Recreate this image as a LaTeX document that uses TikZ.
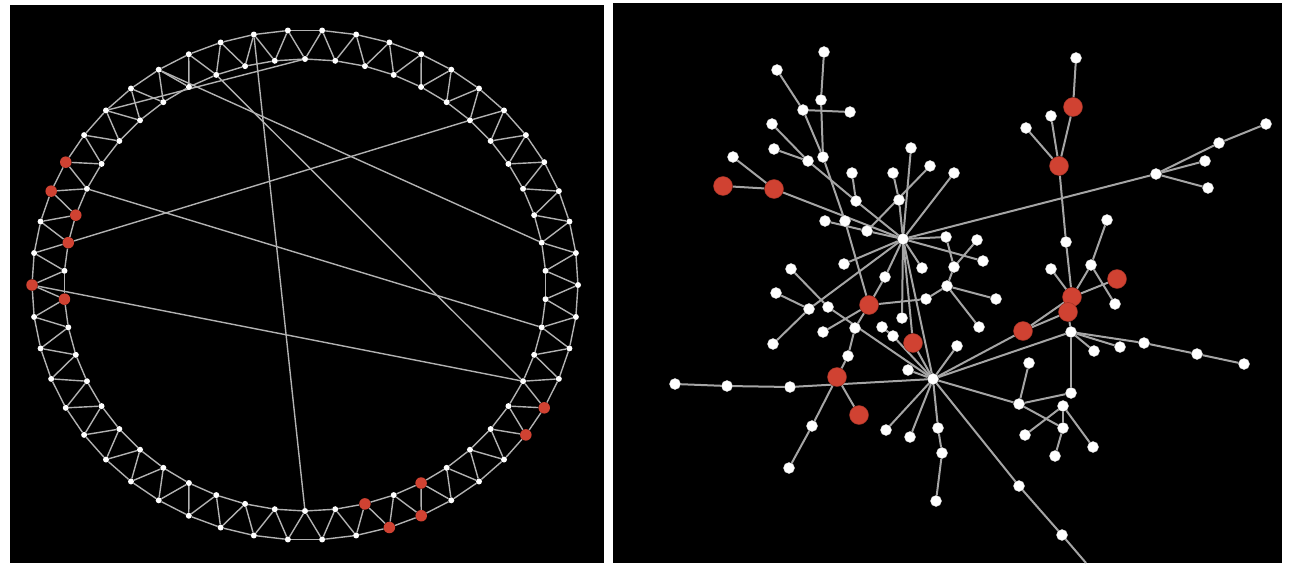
\documentclass[tikz,border=0pt]{standalone}
\usetikzlibrary{backgrounds}

\definecolor{nodered}{RGB}{208,66,50}
\definecolor{linegray}{RGB}{178,178,178}
\definecolor{edgegray}{RGB}{165,165,165}

\tikzset{
  ringdot/.style={circle, fill=white, inner sep=0pt, minimum size=6pt},
  ringred/.style={circle, fill=nodered, inner sep=0pt, minimum size=11.5pt},
  outer 8/.style={ringred}, outer 9/.style={ringred}, outer 12/.style={ringred},
  outer 27/.style={ringred}, outer 28/.style={ringred},
  outer 32/.style={ringred}, outer 33/.style={ringred},
  inner 10/.style={ringred}, inner 11/.style={ringred}, inner 13/.style={ringred},
  inner 27/.style={ringred}, inner 29/.style={ringred},
  dot/.style={circle, fill=white, draw=white!70!gray, inner sep=0pt, minimum size=11pt},
  bigred/.style={circle, fill=nodered, draw=nodered!75!black, inner sep=0pt, minimum size=19pt}
}

\begin{document}
\begin{tikzpicture}[x=1pt,y=-1pt]

  \useasboundingbox (0,0) rectangle (1292,572);
  \begin{scope}[on background layer]
    \fill[black] (10,5) rectangle (604,563);
    \fill[black] (613,3) rectangle (1282,563);
  \end{scope}

  % ring lattice
  \foreach \k in {0,...,49} {
    \node[ringdot, inner \k/.try] (i\k) at ({305+241*cos(90+7.2*\k)},{285-226*sin(90+7.2*\k)}) {};
    \node[ringdot, outer \k/.try] (o\k) at ({305+273*cos(93.6+7.2*\k)},{285-255*sin(93.6+7.2*\k)}) {};
  }

  \begin{scope}[on background layer, every edge/.style={draw=linegray, line width=1.4pt}]
    \foreach \k in {0,...,49} {
      \pgfmathtruncatemacro{\nx}{mod(\k+1,50)}
      \path (i\k) edge (o\k) (o\k) edge (i\nx) (i\k) edge (i\nx) (o\k) edge (o\nx);
    }
    \path (o1) edge (i25) (o4) edge (i39) (i3) edge (i34) (o6) edge (i0);
    \path (i9) edge (i36) (i11) edge (i44) (o12) edge (i34);
  \end{scope}

  % tree with two hubs
  \begin{scope}[every node/.style={dot}]
    \node (h1) at (903,239) {};
    \node (h2) at (933,379) {};
    \node (s1) at (824,52) {};
    \node (s2) at (777,70) {};
    \node (s3) at (821,100) {};
    \node (s4) at (803,110) {};
    \node (s5) at (850,112) {};
    \node (s6) at (772,124) {};
    \node (s7) at (774,149) {};
    \node (s8) at (733,157) {};
    \node (s9) at (823,157) {};
    \node (s10) at (808,161) {};
    \node (s11) at (852,173) {};
    \node (s12) at (911,148) {};
    \node (s13) at (930,166) {};
    \node (s14) at (893,173) {};
    \node (s15) at (954,173) {};
    \node (s16) at (856,201) {};
    \node (s17) at (899,200) {};
    \node (s18) at (825,221) {};
    \node (s19) at (845,221) {};
    \node (s20) at (867,231) {};
    \node (s21) at (946,237) {};
    \node (s22) at (977,240) {};
    \node (s23) at (983,261) {};
    \node (s24) at (844,264) {};
    \node (s25) at (922,268) {};
    \node (s26) at (954,267) {};
    \node (s27) at (791,269) {};
    \node (s28) at (885,277) {};
    \node (s29) at (947,286) {};
    \node (s30) at (776,293) {};
    \node (s31) at (996,299) {};
    \node (s32) at (926,299) {};
    \node (s33) at (809,309) {};
    \node (s34) at (828,307) {};
    \node (s35) at (902,318) {};
    \node (s36) at (882,327) {};
    \node (s37) at (855,328) {};
    \node (s38) at (823,332) {};
    \node (s39) at (979,327) {};
    \node (s40) at (893,336) {};
    \node (s41) at (957,346) {};
    \node (s42) at (773,344) {};
    \node (s43) at (848,356) {};
    \node (s44) at (908,370) {};
    \node (s45) at (675,384) {};
    \node (s46) at (727,386) {};
    \node (s47) at (790,387) {};
    \node (s48) at (812,426) {};
    \node (s49) at (886,430) {};
    \node (s50) at (910,437) {};
    \node (s51) at (938,428) {};
    \node (s52) at (942,453) {};
    \node (s53) at (789,468) {};
    \node (s54) at (936,501) {};
    \node (s55) at (1076,58) {};
    \node (s56) at (1051,116) {};
    \node (s57) at (1026,128) {};
    \node (s58) at (1156,174) {};
    \node (s59) at (1219,143) {};
    \node (s60) at (1266,124) {};
    \node (s61) at (1205,161) {};
    \node (s62) at (1208,188) {};
    \node (s63) at (1107,220) {};
    \node (s64) at (1066,242) {};
    \node (s65) at (1051,269) {};
    \node (s66) at (1091,265) {};
    \node (s67) at (1115,304) {};
    \node (s68) at (1071,332) {};
    \node (s69) at (1094,351) {};
    \node (s70) at (1120,347) {};
    \node (s71) at (1144,343) {};
    \node (s72) at (1197,354) {};
    \node (s73) at (1244,364) {};
    \node (s74) at (1029,363) {};
    \node (s75) at (1071,393) {};
    \node (s76) at (1019,404) {};
    \node (s77) at (1063,406) {};
    \node (s78) at (1063,428) {};
    \node (s79) at (1025,435) {};
    \node (s80) at (1093,447) {};
    \node (s81) at (1055,456) {};
    \node (s82) at (1019,486) {};
    \node (s83) at (1062,535) {};
  \end{scope}
  \coordinate (c1) at (1086,563);

  \begin{scope}[every node/.style={bigred}]
    \node (r1) at (723,186) {};
    \node (r2) at (774,189) {};
    \node (r3) at (869,305) {};
    \node (r4) at (913,343) {};
    \node (r5) at (837,377) {};
    \node (r6) at (859,415) {};
    \node (r7) at (1073,107) {};
    \node (r8) at (1059,166) {};
    \node (r9) at (1117,279) {};
    \node (r10) at (1072,297) {};
    \node (r11) at (1068,312) {};
    \node (r12) at (1023,331) {};
  \end{scope}

  \begin{scope}[on background layer, every edge/.style={draw=edgegray, line width=2pt}]
    \path (s1) edge (s3) (s3) edge (s9) (s2) edge (s4) (s4) edge (s5) (s4) edge (s9);
    \path (s6) edge (s10) (s7) edge (s10) (s10) edge (s16) (s16) edge (h1);
    \path (s8) edge (r2) (r1) edge (r2) (r2) edge (h1);
    \path (s9) edge (s19) (s19) edge (r3) (s18) edge (s20) (s20) edge (h1);
    \path (s11) edge (s16) (s14) edge (s17) (s17) edge (h1) (s13) edge (s20);
    \path (s12) edge (h1) (s15) edge (h1) (s21) edge (h1) (s21) edge (s26);
    \path (s22) edge (s26) (s26) edge (s29) (s23) edge (h1) (s25) edge (h1);
    \path (s28) edge (h1) (s24) edge (h1) (h1) edge (s58) (h1) edge (h2);
    \path (h1) edge (s35) (h1) edge (r4) (s33) edge (h1);
    \path (s28) edge (r3) (r3) edge (s32) (s32) edge (s29) (s29) edge (s31) (s29) edge (s39);
    \path (r3) edge (s37) (s38) edge (r3) (s37) edge (s43) (s43) edge (r5);
    \path (s30) edge (s33) (s33) edge (s42) (s27) edge (s34) (s34) edge (h2);
    \path (r4) edge (h2) (s36) edge (s40) (s40) edge (h2) (s44) edge (h2);
    \path (s45) edge (s46) (s46) edge (s47) (s47) edge (h2);
    \path (r5) edge (s48) (s48) edge (s53) (r5) edge (r6);
    \path (s49) edge (h2) (s50) edge (h2) (h2) edge (s51) (s51) edge (s52) (s52) edge (s54);
    \path (h2) edge (s76) (h2) edge (r12) (h2) edge (s68) (s41) edge (h2);
    \path (h2) edge (s82) (s82) edge (s83) (s83) edge (c1);
    \path (r12) edge (r11) (r12) edge (r10) (r11) edge (r10) (r10) edge (s64);
    \path (s64) edge (r8) (r8) edge (r7) (r7) edge (s55) (r8) edge (s56) (r8) edge (s57);
    \path (r10) edge (s65) (r10) edge (s66) (r10) edge (r9) (s66) edge (s63) (s66) edge (s67);
    \path (r11) edge (s68) (s68) edge (s69) (s68) edge (s70) (s68) edge (s71);
    \path (s71) edge (s72) (s72) edge (s73) (s68) edge (s75);
    \path (s74) edge (s76) (s76) edge (s75) (s76) edge (s78);
    \path (s77) edge (s79) (s77) edge (s80) (s77) edge (s78) (s78) edge (s81);
    \path (s58) edge (s59) (s59) edge (s60) (s58) edge (s61) (s58) edge (s62);
  \end{scope}

\end{tikzpicture}
\end{document}
